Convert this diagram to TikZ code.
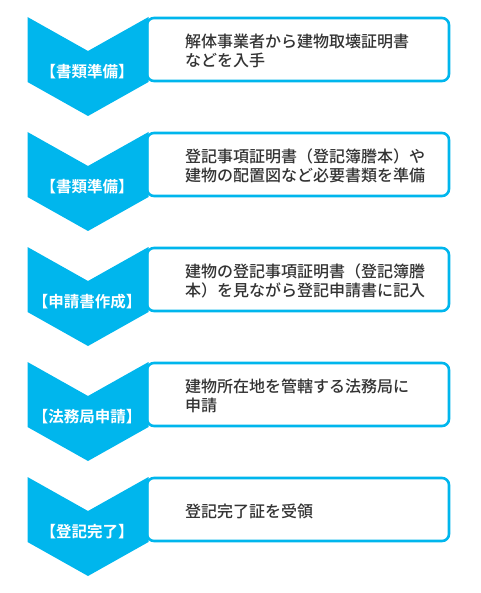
\documentclass[tikz,border=0pt]{standalone}
\usepackage{fontspec}
\newfontfamily\jpfont{Noto Sans CJK JP}[BoldFont={* Bold}]
\newfontfamily\jpmedium{Noto Sans CJK JP Medium}
\usetikzlibrary{positioning,calc}
\definecolor{StepC}{RGB}{0,182,237}
\definecolor{TextC}{RGB}{51,51,51}
\tikzset{
  stepbox/.style={draw=StepC,line width=2.6pt,rounded corners=7pt,fill=white,
                  minimum width=302pt,minimum height=63pt,inner sep=0pt,outer sep=0pt},
  steplabel/.style={text=white,font=\jpfont\bfseries\fontsize{15.5}{18}\selectfont,inner sep=0pt},
  steptext/.style={text=TextC,font=\jpmedium\fontsize{16}{19}\selectfont,
                   align=left,anchor=west,inner sep=0pt},
  chevron/.pic={\fill[StepC] (-60.5,-32.5) -- (0,1.5) -- (60.5,-32.5) -- (60.5,32.5)
                 -- (0,66.5) -- (-60.5,32.5) -- cycle;},
}

\begin{document}
\begin{tikzpicture}[x=1pt,y=-1pt,node distance=52pt]
  \useasboundingbox (0,0) rectangle (480,593);
  \node[stepbox] (b1) at (298,49.5) {};
  \node[stepbox,below=of b1] (b2) {};
  \node[stepbox,below=of b2] (b3) {};
  \node[stepbox,below=of b3] (b4) {};
  \node[stepbox,below=of b4] (b5) {};

  \pic at ($(b1.west)+(-59,0)$) {chevron};
  \pic at ($(b2.west)+(-59,0)$) {chevron};
  \pic at ($(b3.west)+(-59,0)$) {chevron};
  \pic at ($(b4.west)+(-59,0)$) {chevron};
  \pic at ($(b5.west)+(-59,0)$) {chevron};

  \node[steplabel] (l1) at ($(b1.west)+(-60,22)$) {【書類準備】};
  \node[steplabel] (l2) at ($(b2.west)+(-60,22)$) {【書類準備】};
  \node[steplabel] (l3) at ($(b3.west)+(-60,22)$) {【申請書作成】};
  \node[steplabel] (l4) at ($(b4.west)+(-60,22)$) {【法務局申請】};
  \node[steplabel] (l5) at ($(b5.west)+(-60,22)$) {【登記完了】};

  \node[steptext] (t1) at ($(b1.west)+(38,1)$) {解体事業者から建物取壊証明書\\などを入手};
  \node[steptext] (t2) at ($(b2.west)+(38,1)$) {登記事項証明書（登記簿謄本）や\\建物の配置図など必要書類を準備};
  \node[steptext] (t3) at ($(b3.west)+(38,1)$) {建物の登記事項証明書（登記簿謄\\本）を見ながら登記申請書に記入};
  \node[steptext] (t4) at ($(b4.west)+(38,1)$) {建物所在地を管轄する法務局に\\申請};
  \node[steptext] (t5) at ($(b5.west)+(38,1.5)$) {登記完了証を受領};
\end{tikzpicture}
\end{document}
